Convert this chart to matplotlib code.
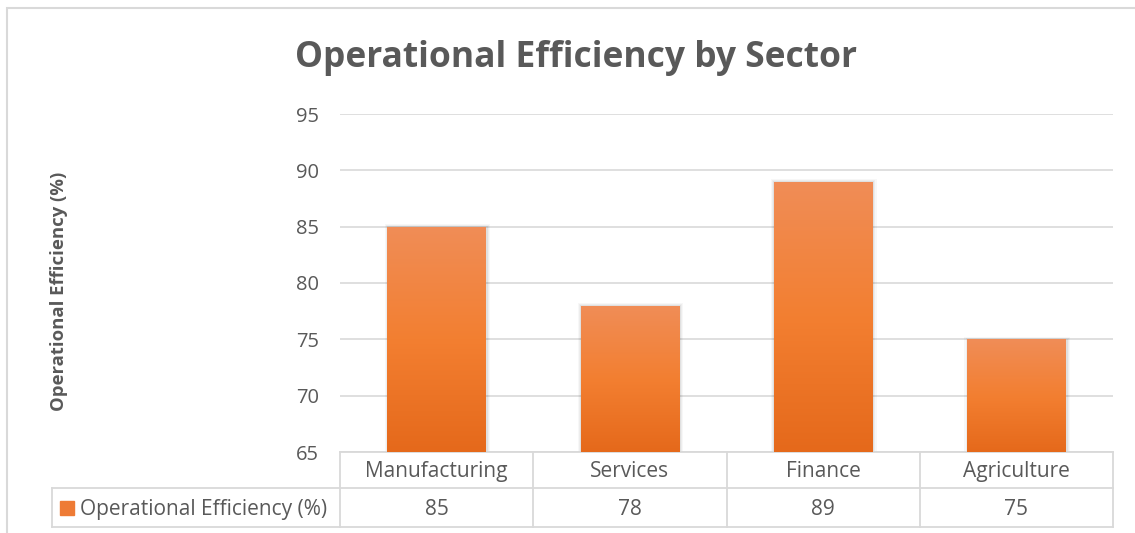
"""
Operational efficiency by sector - Excel style column chart with data table
"""

import matplotlib.pyplot as plt
import numpy as np
from matplotlib.colors import LinearSegmentedColormap
from matplotlib.patches import Rectangle
from matplotlib.transforms import blended_transform_factory

plt.rcParams['font.family'] = ['Open Sans', 'DejaVu Sans']

sectors = ['Manufacturing', 'Services', 'Finance', 'Agriculture']
efficiency = [85, 78, 89, 75]
series_name = 'Operational Efficiency (%)'
y_ticks = [65, 70, 75, 80, 85, 90, 95]

TEXT = '#595959'
GRID = '#D9D9D9'
bar_cmap = LinearSegmentedColormap.from_list(
    'bar', ['#E5691B', '#F37F31', '#F08D57'])

W, H = 1135, 533
fig = plt.figure(figsize=(W / 100, H / 100), dpi=100)

# chart frame (bottom/right run out of the picture)
fig.add_artist(Rectangle((7 / W, -0.1), 1.2, 1 - 8 / H + 0.1,
                         transform=fig.transFigure, fill=False,
                         edgecolor=GRID, linewidth=1.5))

# plot area in pixels: x 340..1113, y 114..452
ax = fig.add_axes([340 / W, 1 - 452 / H, (1113 - 340) / W, (452 - 114) / H])
ax.set_xlim(-0.5, len(sectors) - 0.5)
ax.set_ylim(y_ticks[0], y_ticks[-1])
ax.set_yticks(y_ticks)
ax.set_xticks([])
ax.tick_params(axis='y', length=0, pad=15, labelsize=14.5, labelcolor=TEXT)
for s in ax.spines.values():
    s.set_visible(False)
ax.yaxis.grid(True, color=GRID, linewidth=1.2)
ax.set_axisbelow(True)

x = np.arange(len(sectors))
bars = ax.bar(x, efficiency, width=0.51, color='none', zorder=3)

# soft shadow + vertical gradient fill for each bar
grad = np.linspace(0, 1, 256).reshape(-1, 1)
ymin = ax.get_ylim()[0]
for b in bars:
    x0, w, h = b.get_x(), b.get_width(), b.get_height()
    for i, a in enumerate([0.05, 0.04, 0.03]):
        pad = 0.006 * (i + 1)
        ax.add_patch(Rectangle((x0 - pad + 0.004, ymin), w + 2 * pad,
                               h - ymin + pad * 12, facecolor='black',
                               alpha=a, edgecolor='none', zorder=2))
    im = ax.imshow(grad, cmap=bar_cmap, aspect='auto', origin='lower',
                   extent=(x0, x0 + w, ymin, h), zorder=3)
    im.set_clip_path(b)

ax.set_ylabel(series_name, fontsize=13.3, fontweight='bold', color=TEXT,
              labelpad=0)
ax.yaxis.set_label_coords(-(340 - 68) / (1113 - 340), 0.475)

# data table under the axis
tr = blended_transform_factory(ax.transData, ax.transAxes)
px = 1 / (452 - 114)
row1 = -(488 - 452) * px
row2 = -(527 - 452) * px
left = -0.5 - (340 - 52) / ((1113 - 340) / len(sectors))
right = len(sectors) - 0.5
lk = dict(color=GRID, linewidth=1.3, transform=tr, clip_on=False)
ax.plot([-0.5, right], [0, 0], **lk)
ax.plot([left, right], [row1, row1], **lk)
ax.plot([left, right], [row2, row2], **lk)
ax.plot([left, left], [row1, row2], **lk)
for xb in np.arange(-0.5, right + 0.5, 1):
    ax.plot([xb, xb], [0, row2], **lk)

for xi, name, val in zip(x, sectors, efficiency):
    ax.text(xi, row1 / 2 - 0.004, name, transform=tr, ha='center',
            va='center', fontsize=15, color=TEXT)
    ax.text(xi, (row1 + row2) / 2 - 0.006, str(val), transform=tr,
            ha='center', va='center', fontsize=15, color=TEXT)

fig.add_artist(Rectangle((60 / W, 1 - 515 / H), 14 / W, 14 / H,
                         transform=fig.transFigure, color='#EE7B35'))
fig.text(80 / W, 1 - 509 / H, series_name, ha='left', va='center',
         fontsize=15, color=TEXT)

fig.text(576 / W, 1 - 58 / H, 'Operational Efficiency by Sector',
         ha='center', va='center', fontsize=25.5, fontweight='bold',
         color=TEXT)

fig.savefig('out.png', dpi=100)
